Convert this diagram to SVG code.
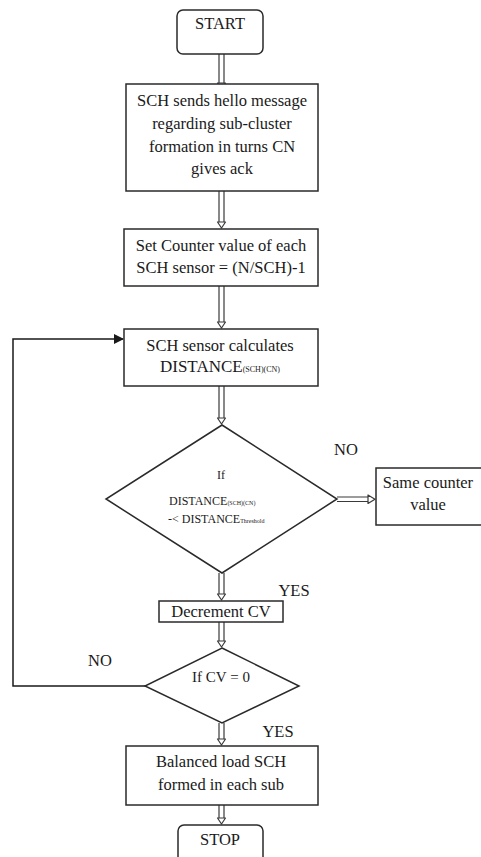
<svg xmlns="http://www.w3.org/2000/svg" width="481" height="857" viewBox="0 0 481 857">
<defs>
<style>
.box{fill:#fff;stroke:#2a2a2a;stroke-width:1.5}
.t{font-family:"Liberation Serif","Times New Roman",serif;font-size:16.5px;fill:#1a1a1a;text-anchor:middle}
.s{font-family:"Liberation Serif","Times New Roman",serif;font-size:12px;fill:#1a1a1a}
.sub{font-size:6px}
.sh{stroke:#3a3a3a;stroke-width:1.2;fill:none}
.hd{fill:#fff;stroke:#3a3a3a;stroke-width:1.2;stroke-linejoin:round}
.ln{stroke:#1a1a1a;stroke-width:1.5;fill:none}
</style>
<marker id="fa" markerWidth="10" markerHeight="10" refX="9" refY="5" orient="auto" markerUnits="userSpaceOnUse">
<path d="M0,0 L10,5 L0,10 z" fill="#1a1a1a"/>
</marker>
</defs>
<rect width="481" height="857" fill="#fff"/>
<g id="connectors">
<path class="sh" d="M219,54 V84 M224,54 V84"/><path class="hd" d="M217.5,83 L225.5,83 L221.5,89 z"/>
<path class="sh" d="M219,191 V223 M224,191 V223"/><path class="hd" d="M217.5,222 L225.5,222 L221.5,228 z"/>
<path class="sh" d="M219,286 V323 M224,286 V323"/><path class="hd" d="M217.5,322 L225.5,322 L221.5,328 z"/>
<path class="sh" d="M219,386 V419 M224,386 V419"/><path class="hd" d="M217.5,418 L225.5,418 L221.5,424 z"/>
<path class="sh" d="M219,573 V595 M224,573 V595"/><path class="hd" d="M217.5,594 L225.5,594 L221.5,600 z"/>
<path class="sh" d="M219,622 V642 M224,622 V642"/><path class="hd" d="M217.5,641 L225.5,641 L221.5,647 z"/>
<path class="sh" d="M219,723 V740 M224,723 V740"/><path class="hd" d="M217.5,739 L225.5,739 L221.5,745 z"/>
<path class="sh" d="M219,805 V819 M224,805 V819"/><path class="hd" d="M217.5,818 L225.5,818 L221.5,824 z"/>
<path class="sh" d="M337,497 H369 M337,501.5 H369"/><path class="hd" d="M368,495 L368,503.5 L375,499.2 z"/>
<path class="ln" d="M145,686 H13 V339 H123" marker-end="url(#fa)"/>
</g>
<g id="start">
<rect class="box" x="177" y="10" width="86" height="44" rx="6"/>
<text class="t" x="220" y="29">START</text>
</g>
<g id="hello">
<rect class="box" x="126" y="84" width="192" height="107"/>
<text class="t" x="222" y="106">SCH sends hello message</text>
<text class="t" x="222" y="129">regarding sub-cluster</text>
<text class="t" x="222" y="152">formation in turns CN</text>
<text class="t" x="222" y="174">gives ack</text>
</g>
<g id="setcounter">
<rect class="box" x="124" y="229" width="194" height="57"/>
<text class="t" x="221" y="251">Set Counter value of each</text>
<text class="t" x="221" y="273">SCH sensor = (N/SCH)-1</text>
</g>
<g id="calc">
<rect class="box" x="124" y="329" width="194" height="57"/>
<text class="t" x="220" y="351">SCH sensor calculates</text>
<text class="t" x="220" y="372" style="font-size:17px">DISTANCE<tspan style="font-size:8px">(SCH)(CN)</tspan></text>
</g>
<g id="decision1">
<polygon class="box" points="222,425 337,499 222,573 106,499"/>
<text class="s" x="221" y="479" text-anchor="middle">If</text>
<text class="s" x="169" y="505">DISTANCE<tspan class="sub">(SCH)(CN)</tspan></text>
<text class="s" x="168" y="523">-&lt; DISTANCE<tspan class="sub">Threshold</tspan></text>
</g>
<g id="same">
<rect class="box" x="376" y="468" width="110" height="57"/>
<text class="t" x="428" y="488">Same counter</text>
<text class="t" x="428" y="510">value</text>
</g>
<g id="decrement">
<rect class="box" x="159" y="601" width="124" height="21"/>
<text class="t" x="221" y="617">Decrement CV</text>
</g>
<g id="decision2">
<polygon class="box" points="222,648 299,686 222,723 145,686"/>
<text class="s" x="221" y="682" text-anchor="middle" style="font-size:15px">If CV = 0</text>
</g>
<g id="balanced">
<rect class="box" x="126" y="746" width="192" height="59"/>
<text class="t" x="221" y="767">Balanced load SCH</text>
<text class="t" x="221" y="790">formed in each sub</text>
</g>
<g id="stop">
<rect class="box" x="178" y="825" width="85" height="44" rx="6"/>
<text class="t" x="220" y="845">STOP</text>
</g>
<g id="labels">
<text class="t" x="346" y="455">NO</text>
<text class="t" x="294" y="596">YES</text>
<text class="t" x="100" y="666">NO</text>
<text class="t" x="278" y="737">YES</text>
</g>
</svg>
